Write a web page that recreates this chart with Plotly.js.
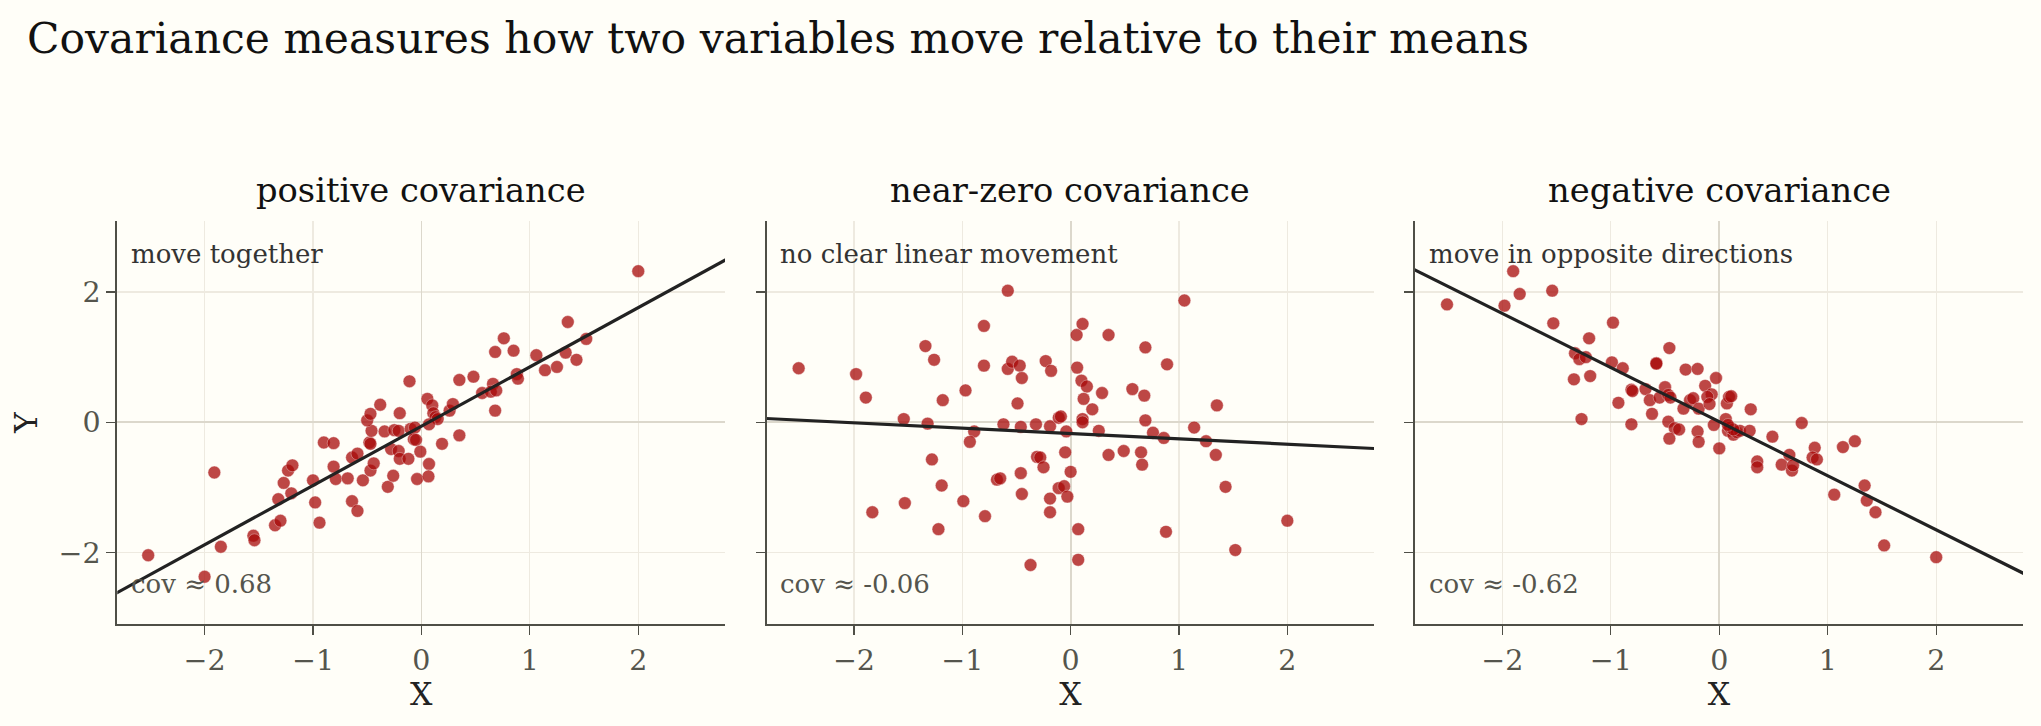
<!DOCTYPE html>
<html>
<head>
<meta charset="utf-8">
<script src="https://cdn.plot.ly/plotly-3.0.1.min.js"></script>
<style>
  html, body { margin: 0; padding: 0; background: #fffef8; }
  #chart { width: 2041px; height: 726px; }
</style>
</head>
<body>
<div id="chart"></div>
<script>
// Panel headings, corner notes and the covariance shown in each panel
const panelTitles = ["positive covariance", "near-zero covariance", "negative covariance"];
const panelNotes = ["move together", "no clear linear movement", "move in opposite directions"];
const covValues = [0.68, -0.06, -0.62];

// Positive covariance sample
const xPos = [-2.52, -2.00, -1.91, -1.85, -1.55, -1.54, -1.35, -1.30, -1.32, -1.20, -1.27, -1.23, -1.19,
  -1.00, -0.98, -0.94, -0.90, -0.81, -0.81, -0.79, -0.68, -0.64, -0.59, -0.64, -0.59, -0.54, -0.47,
  -0.44, -0.48, -0.47, -0.46, -0.50, -0.47, -0.38, -0.34, -0.28, -0.31, -0.26, -0.25, -0.21, -0.20,
  -0.21, -0.20, -0.12, -0.11, -0.10, -0.06, -0.07, -0.05, -0.01, -0.04, 0.055, 0.10, 0.11, 0.13,
  0.15, 0.07, 0.07, 0.065, 0.19, 0.35, 0.26, 0.29, 0.35, 0.48, 0.56, 0.66, 0.64, 0.69, 0.68, 0.68,
  0.76, 0.85, 0.88, 0.89, 1.06, 1.14, 1.25, 1.33, 1.35, 1.43, 1.52, 2.00];
const yPos = [-2.04, -2.37, -0.77, -1.91, -1.74, -1.81, -1.58, -1.51, -1.18, -1.09, -0.93, -0.74, -0.66,
  -0.89, -1.23, -1.54, -0.31, -0.32, -0.68, -0.87, -0.86, -1.21, -1.36, -0.54, -0.48, -0.89, -0.74,
  -0.63, -0.31, -0.33, -0.13, 0.03, 0.13, 0.27, -0.14, -0.41, -0.99, -0.82, -0.12, -0.13, 0.14,
  -0.44, -0.56, -0.56, 0.63, -0.10, -0.08, -0.26, -0.27, -0.45, -0.87, 0.36, 0.26, 0.14, 0.08,
  0.05, -0.03, -0.64, -0.83, -0.33, -0.20, 0.18, 0.28, 0.65, 0.70, 0.45, 0.59, 0.47, 0.49, 0.18, 1.08,
  1.29, 1.10, 0.74, 0.67, 1.03, 0.80, 0.85, 1.07, 1.54, 0.96, 1.28, 2.32];

// Near-zero covariance sample
const xZero = [-2.51, -1.98, -1.89, -1.83, -1.54, -1.53, -1.34, -1.26, -1.32, -1.18, -1.28, -1.19, -1.22,
  -0.97, -0.99, -0.89, -0.93, -0.80, -0.80, -0.79, -0.68, -0.65, -0.58, -0.58, -0.54, -0.47, -0.45,
  -0.49, -0.62, -0.46, -0.46, -0.45, -0.32, -0.31, -0.28, -0.25, -0.37, -0.23, -0.18, -0.19, -0.11,
  -0.09, -0.19, -0.19, -0.05, -0.04, 0.00, -0.11, -0.06, -0.03, 0.07, 0.07, 0.11, 0.055, 0.35, 0.06,
  0.10, 0.15, 0.12, 0.20, 0.11, 0.11, 0.29, 0.26, 0.35, 0.49, 0.57, 0.69, 0.68, 0.69, 0.76, 0.86,
  0.89, 0.65, 0.66, 1.05, 1.14, 1.25, 1.34, 1.35, 1.43, 0.88, 1.52, 2.00];
const yZero = [0.83, 0.74, 0.38, -1.38, 0.05, -1.24, 1.17, 0.96, -0.02, 0.34, -0.57, -0.97, -1.64,
  0.49, -1.21, -0.14, -0.30, 1.48, 0.87, -1.44, -0.88, -0.86, 2.02, 0.82, 0.93, 0.87, 0.68,
  0.29, -0.03, -0.07, -0.78, -1.10, -0.03, -0.53, -0.54, -0.69, -2.19, 0.94, 0.79, -0.06, 0.07,
  0.09, -1.17, -1.38, -0.46, -0.14, -0.76, -1.01, -0.98, -1.14, -1.64, -2.11, 1.51, 1.34, 1.34, 0.84,
  0.64, 0.55, 0.36, 0.20, 0.05, 0.00, 0.45, -0.13, -0.50, -0.44, 0.51, 1.15, 0.41, 0.03, -0.16, -0.24,
  0.89, -0.46, -0.65, 1.87, -0.08, -0.29, -0.50, 0.26, -0.99, -1.68, -1.96, -1.51];

// Negative covariance sample
const xNeg = [-2.51, -1.90, -1.98, -1.84, -1.54, -1.53, -1.20, -1.33, -1.29, -1.23, -1.34, -1.19, -1.27,
  -0.98, -0.99, -0.89, -0.93, -0.81, -0.80, -0.81, -0.68, -0.64, -0.62, -0.58, -0.58, -0.46, -0.55,
  -0.50, -0.47, -0.45, -0.47, -0.41, -0.37, -0.46, -0.31, -0.20, -0.33, -0.27, -0.24, -0.19, -0.20,
  -0.19, -0.13, -0.07, -0.11, -0.09, -0.03, -0.05, 0.00, 0.07, 0.09, 0.11, 0.06, 0.08, 0.13, 0.10,
  0.16, 0.19, 0.28, 0.29, 0.13, 0.08, 0.49, 0.76, 0.35, 0.35, 0.575, 0.646, 0.67, 0.68, 0.88, 0.86,
  0.90, 1.14, 1.25, 1.06, 1.34, 1.36, 1.44, 1.52, 2.00];
const yNeg = [1.81, 2.32, 1.79, 1.97, 2.02, 1.52, 1.29, 1.06, 0.97, 1.00, 0.66, 0.71, 0.05,
  1.53, 0.92, 0.83, 0.30, 0.50, 0.48, -0.03, 0.51, 0.34, 0.13, 0.91, 0.90, 1.14, 0.38,
  0.54, 0.42, 0.38, 0.01, -0.09, -0.11, -0.25, 0.81, 0.82, 0.21, 0.34, 0.37, 0.21, -0.14,
  -0.30, 0.56, 0.43, 0.39, 0.28, 0.68, -0.04, -0.40, 0.29, 0.39, 0.40, 0.05, -0.13, -0.19, -0.08,
  -0.15, -0.13, -0.13, 0.20, -0.11, -0.04, -0.22, -0.01, -0.60, -0.69, -0.65, -0.50, -0.74, -0.66, -0.39, -0.54,
  -0.57, -0.38, -0.29, -1.11, -0.97, -1.20, -1.38, -1.89, -2.07];

// Least-squares fit lines (slope, intercept) for each panel
const fitSlope = [0.91, -0.082, -0.83];
const fitIntercept = [-0.06, -0.172, 0.01];

// Tick positions
const xTicks = [-2, -1, 0, 1, 2];
const yTicks = [-2, 0, 2];

const samplesX = [xPos, xZero, xNeg];
const samplesY = [yPos, yZero, yNeg];

const FONT = "DejaVu Serif";
const ink = "#4f4f47";
const gridColor = "#eeeae0";
const zeroColor = "#dcd8cc";
const dotColor = "rgb(168,10,10)";
const xRange = [-2.805, 2.8];
const yRange = [-3.1, 3.09];
const xDomains = [[0.05747, 0.35522], [0.37565, 0.67320], [0.69329, 0.99118]];
const yDomain = [0.14008, 0.69559];

const traces = [];
const layout = {
  width: 2041, height: 726,
  margin: {l: 0, r: 0, t: 0, b: 0},
  paper_bgcolor: "#fffef8",
  plot_bgcolor: "#fffef8",
  showlegend: false,
  font: {family: FONT, color: "#222"},
  title: {
    text: "Covariance measures how two variables move relative to their means",
    x: 27 / 2041, xref: "paper", xanchor: "left",
    y: 1 - 38 / 726, yref: "paper", yanchor: "middle",
    font: {family: FONT, size: 42.5, color: "#111"}
  },
  annotations: []
};

for (let i = 0; i < 3; i++) {
  const sfx = i === 0 ? "" : String(i + 1);
  const xa = "x" + sfx, ya = "y" + sfx;

  traces.push({
    type: "scatter", mode: "markers",
    x: samplesX[i], y: samplesY[i],
    xaxis: xa, yaxis: ya,
    marker: {size: 12.8, color: dotColor, opacity: 0.75,
             line: {color: "rgba(255,255,255,0.7)", width: 0.6}},
    hoverinfo: "skip"
  });

  const lx = [xRange[0] - 0.5, xRange[1] + 0.5];
  traces.push({
    type: "scatter", mode: "lines",
    x: lx, y: lx.map(v => fitIntercept[i] + fitSlope[i] * v),
    xaxis: xa, yaxis: ya,
    line: {color: "#222222", width: 3.2},
    hoverinfo: "skip"
  });

  layout["xaxis" + sfx] = {
    domain: xDomains[i], range: xRange, anchor: ya,
    tickmode: "array", tickvals: xTicks,
    ticks: "outside", ticklen: 9, tickwidth: 1.3, tickcolor: ink,
    showline: true, linecolor: ink, linewidth: 2,
    showgrid: true, gridcolor: gridColor, gridwidth: 1.2,
    zeroline: true, zerolinecolor: zeroColor, zerolinewidth: 1.8,
    tickfont: {family: FONT, size: 28.5, color: "#55554d"},
    title: {text: "X", font: {family: FONT, size: 31.5, color: "#222"}, standoff: 5},
    automargin: false, fixedrange: true
  };
  layout["yaxis" + sfx] = {
    domain: yDomain, range: yRange, anchor: xa,
    tickmode: "array", tickvals: yTicks,
    ticks: "outside", ticklen: 9, tickwidth: 1.3, tickcolor: ink,
    showline: true, linecolor: ink, linewidth: 2,
    showgrid: true, gridcolor: gridColor, gridwidth: 1.2,
    zeroline: true, zerolinecolor: zeroColor, zerolinewidth: 1.8,
    showticklabels: i === 0,
    tickfont: {family: FONT, size: 28.5, color: "#55554d"},
    title: i === 0 ? {text: "Y", font: {family: FONT, size: 31.5, color: "#222"}, standoff: 12} : {text: ""},
    automargin: false, fixedrange: true
  };

  // Panel heading
  layout.annotations.push({
    text: panelTitles[i], showarrow: false,
    xref: "paper", yref: "paper",
    x: (xDomains[i][0] + xDomains[i][1]) / 2, y: 1 - 190.5 / 726,
    xanchor: "center", yanchor: "middle",
    font: {family: FONT, size: 33.7, color: "#111"}
  });
  // Corner note
  layout.annotations.push({
    text: panelNotes[i], showarrow: false,
    xref: xa + " domain", yref: ya + " domain",
    x: 0.019, y: 0.918, xanchor: "left", yanchor: "middle",
    font: {family: FONT, size: 26, color: "#333"}
  });
  // Covariance readout
  layout.annotations.push({
    text: "cov \u2248 " + covValues[i].toFixed(2), showarrow: false,
    xref: xa + " domain", yref: ya + " domain",
    x: 0.019, y: 0.099, xanchor: "left", yanchor: "middle",
    font: {family: FONT, size: 26, color: "#55554d"}
  });
}

Plotly.newPlot("chart", traces, layout, {staticPlot: true, displayModeBar: false});
</script>
</body>
</html>
